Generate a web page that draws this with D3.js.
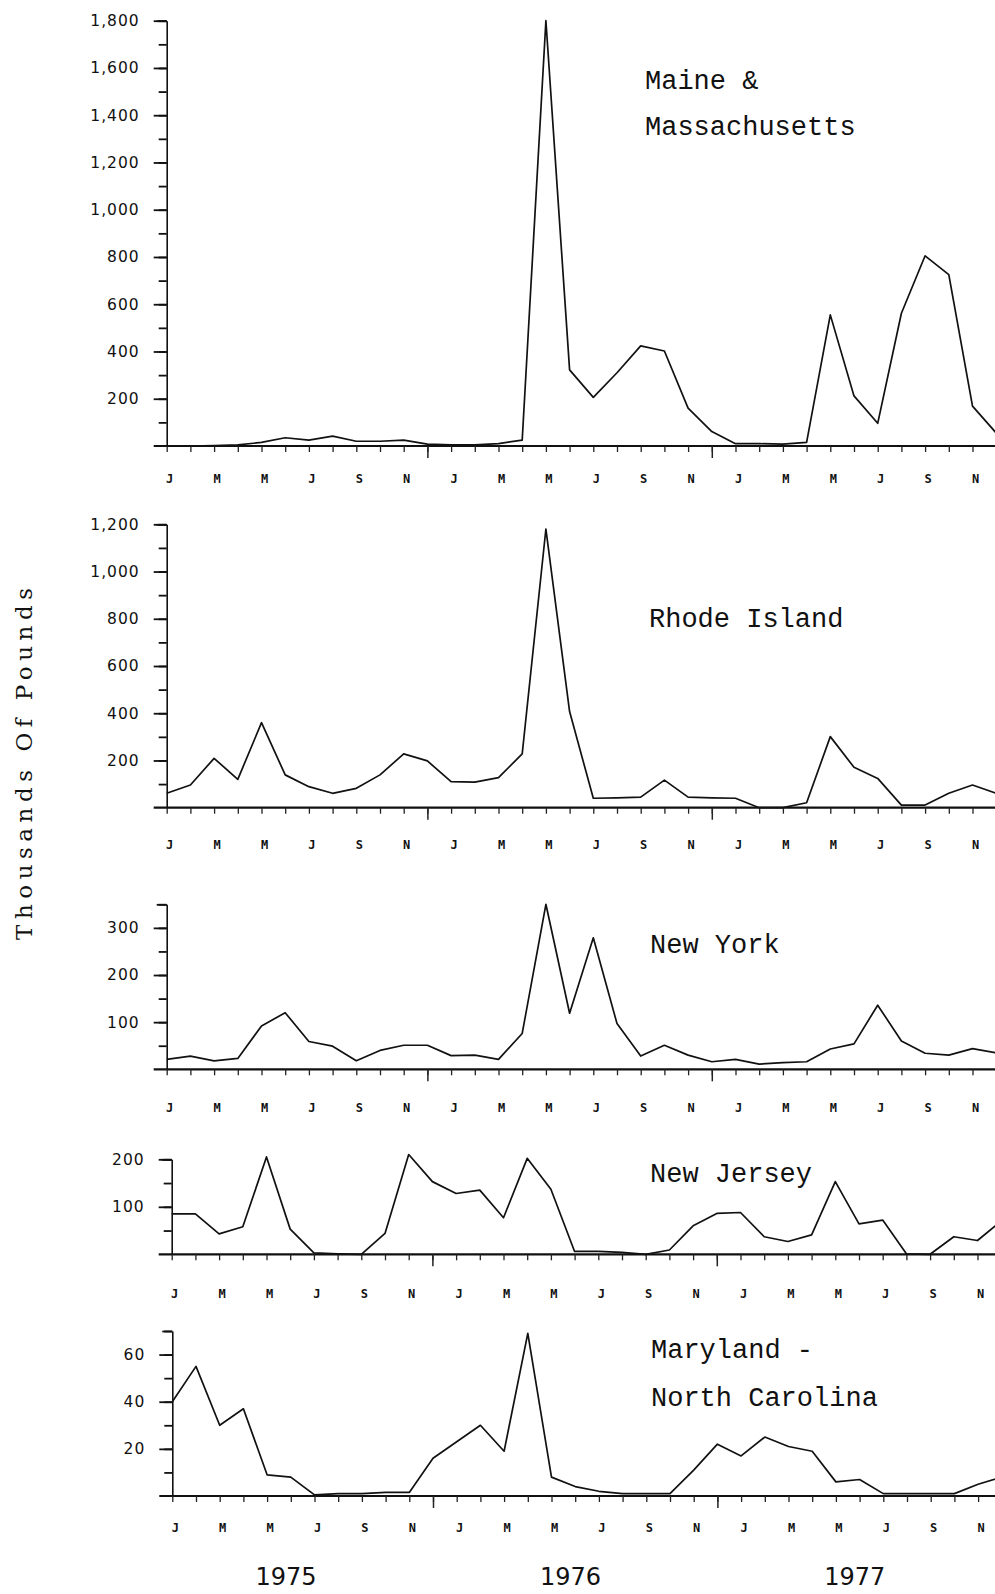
<!DOCTYPE html>
<html>
<head>
<meta charset="utf-8">
<script src="https://cdn.jsdelivr.net/npm/d3@7"></script>
<style>
  html, body { margin: 0; padding: 0; background: #fff; }
  svg { display: block; }
</style>
</head>
<body>
<svg id="chart" width="995" height="1594"></svg>
<script>
// ---------------- DATA ----------------
// Monthly index 0 = Jan 1975 ... 35 = Dec 1977
const monthInitials = ["J","F","M","A","M","J","J","A","S","O","N","D",
                       "J","F","M","A","M","J","J","A","S","O","N","D",
                       "J","F","M","A","M","J","J","A","S","O","N","D"];
const years = ["1975", "1976", "1977"];

const panelNames = [
  ["Maine &", "Massachusetts"],
  ["Rhode Island"],
  ["New York"],
  ["New Jersey"],
  ["Maryland -", "North Carolina"]
];

const maineMass  = [0,0,2,5,15,35,25,42,20,20,25,8,5,5,10,25,1800,322,206,310,424,402,160,61,10,10,8,15,555,212,96,562,805,725,169,55];
const rhodeIsland = [61,96,209,120,360,139,89,61,82,139,228,198,110,108,127,228,1180,407,40,42,45,117,45,42,40,0,0,21,301,171,124,11,11,61,96,61];
const newYork    = [21,28,18,23,92,120,59,49,18,40,51,51,29,30,21,76,350,119,279,97,28,51,30,16,21,11,14,16,43,54,136,60,34,30,44,35];
const newJersey  = [85,85,43,58,205,53,3,1,0,44,210,153,128,135,77,202,137,6,6,4,0,9,60,86,88,37,27,41,153,64,72,1,0,37,29,70];
const marylandNC = [40,55,30,37,9,8,0.5,1,1,1.5,1.5,16,23,30,19,69,8,4,2,1,1,1,11,22,17,25,21,19,6,7,1,1,1,1,5,8];

const seriesList = [maineMass, rhodeIsland, newYork, newJersey, marylandNC];

// axis maxima, minor tick steps and labelled ticks
const yMax       = [1800, 1200, 350, 200, 70];
const minorStep  = [100, 100, 50, 50, 10];
const labelTicks = [
  [200,400,600,800,1000,1200,1400,1600,1800],
  [200,400,600,800,1000,1200],
  [100,200,300],
  [100,200],
  [20,40,60]
];

// ---------------- LAYOUT ----------------
const W = 995, H = 1594;
const monthPx = 23.7;
const layout = [
  { x0: 166.7, base: 446.0,  top: 20.7,  labOff: 33, title: [645, 89, 135] },
  { x0: 166.7, base: 807.7,  top: 524.3, labOff: 37, title: [649, 627] },
  { x0: 166.7, base: 1069.3, top: 904.3, labOff: 38, title: [650, 953] },
  { x0: 171.7, base: 1254.3, top: 1159.3,labOff: 39, title: [650, 1182] },
  { x0: 172.3, base: 1496.0, top: 1331.0,labOff: 32, title: [651, 1358, 1406] }
];

const svg = d3.select("#chart");
svg.append("rect").attr("width", W).attr("height", H).attr("fill", "#fff");

const fmt = d3.format(",");
let lastX = null;

seriesList.forEach((data, p) => {
  const L = layout[p];
  const x = d3.scaleLinear().domain([0, 35]).range([L.x0, L.x0 + 35 * monthPx]);
  const y = d3.scaleLinear().domain([0, yMax[p]]).range([L.base, L.top]);
  lastX = x;
  const g = svg.append("g");

  // minor y ticks
  const minorVals = d3.range(minorStep[p], yMax[p] + 0.001, minorStep[p]);
  const yMinor = g.append("g")
    .attr("transform", `translate(${L.x0},0)`)
    .call(d3.axisLeft(y).tickValues(minorVals).tickSize(8).tickSizeOuter(0).tickFormat(""));
  yMinor.select(".domain").attr("stroke", "#111").attr("stroke-width", 1.6);
  yMinor.selectAll(".tick line").attr("stroke", "#111").attr("stroke-width", 1.8);

  // labelled y ticks
  const yMajor = g.append("g")
    .attr("transform", `translate(${L.x0},0)`)
    .call(d3.axisLeft(y).tickValues(labelTicks[p]).tickSize(13).tickSizeOuter(0).tickPadding(14).tickFormat(fmt));
  yMajor.select(".domain").remove();
  yMajor.selectAll(".tick line").attr("stroke", "#111").attr("stroke-width", 1.8);
  yMajor.selectAll(".tick text")
    .attr("font-family", "'DejaVu Sans', sans-serif")
    .attr("font-size", 15.5)
    .attr("letter-spacing", 1)
    .attr("fill", "#111");

  // top-of-axis tick (axis end)
  g.append("g")
    .attr("transform", `translate(${L.x0},0)`)
    .call(d3.axisLeft(y).tickValues([yMax[p]]).tickSize(10).tickFormat(""))
    .call(a => a.select(".domain").remove())
    .selectAll(".tick line").attr("stroke", "#111").attr("stroke-width", 1.8);

  // x axis baseline (extends left of y-axis and to the right edge)
  g.append("line")
    .attr("x1", x(0) - 13).attr("x2", W)
    .attr("y1", y(0)).attr("y2", y(0))
    .attr("stroke", "#111").attr("stroke-width", 2.2);

  // monthly x ticks
  const xt = g.append("g")
    .attr("transform", `translate(0,${y(0)})`)
    .call(d3.axisBottom(x).tickValues(d3.range(0, 35)).tickSize(6).tickSizeOuter(0).tickFormat(""));
  xt.select(".domain").remove();
  xt.selectAll(".tick line").attr("stroke", "#222").attr("stroke-width", 1.3);

  // year-separator long ticks
  const xl = g.append("g")
    .attr("transform", `translate(0,${y(0)})`)
    .call(d3.axisBottom(x).tickValues([11, 23]).tickSize(12).tickFormat(""));
  xl.select(".domain").remove();
  xl.selectAll(".tick line").attr("stroke", "#222").attr("stroke-width", 1.5);

  // month labels (every other month)
  const evenIdx = d3.range(0, 36, 2);
  g.append("g").selectAll("text")
    .data(evenIdx)
    .join("text")
    .attr("x", d => x(d) + 3)
    .attr("y", y(0) + L.labOff)
    .attr("dy", "0.35em")
    .attr("text-anchor", "middle")
    .attr("font-family", "'DejaVu Sans Mono', monospace")
    .attr("font-weight", "bold")
    .attr("font-size", 12)
    .attr("fill", "#111")
    .text(d => monthInitials[d]);

  // data line
  const line = d3.line().x((d, i) => x(i)).y(d => y(d));
  g.append("path")
    .datum(data)
    .attr("d", line)
    .attr("fill", "none")
    .attr("stroke", "#111")
    .attr("stroke-width", 1.7)
    .attr("stroke-linejoin", "round");

  // panel title
  const t = L.title;
  panelNames[p].forEach((name, k) => {
    g.append("text")
      .attr("x", t[0])
      .attr("y", t[1 + k])
      .attr("font-family", "'Liberation Mono', 'Courier New', monospace")
      .attr("font-size", 27)
      .attr("fill", "#111")
      .text(name);
  });
});

// year labels under the last panel
svg.append("g").selectAll("text")
  .data(years)
  .join("text")
  .attr("x", (d, i) => lastX(i * 12 + 4.8))
  .attr("y", 1585)
  .attr("text-anchor", "middle")
  .attr("font-family", "'DejaVu Sans', sans-serif")
  .attr("font-size", 24)
  .attr("fill", "#111")
  .text(d => d);

// y-axis title
svg.append("text")
  .attr("transform", "translate(32,764) rotate(-90)")
  .attr("text-anchor", "middle")
  .attr("font-family", "'DejaVu Serif', 'Liberation Serif', serif")
  .attr("font-size", 23)
  .attr("textLength", 352)
  .attr("lengthAdjust", "spacing")
  .attr("fill", "#111")
  .text("Thousands Of Pounds");
</script>
</body>
</html>
